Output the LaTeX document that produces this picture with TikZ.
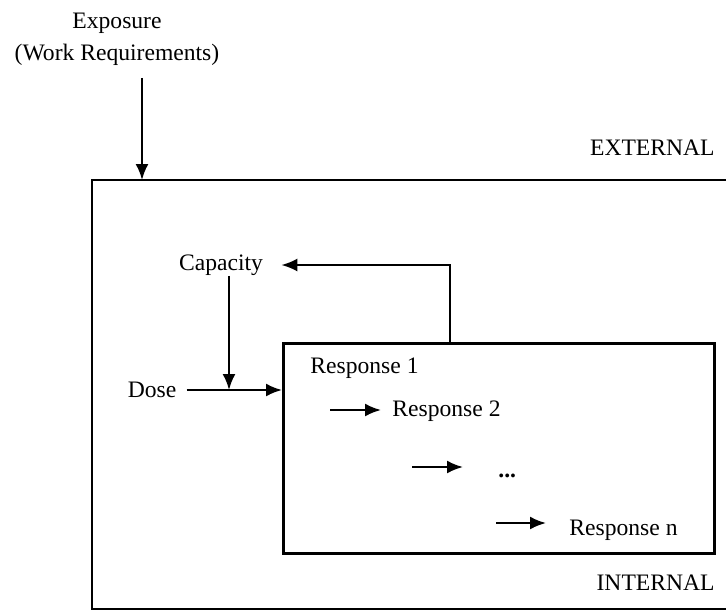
\documentclass[tikz,border=0pt]{standalone}
\usepackage{fontspec}
\setmainfont{Liberation Serif}
\usetikzlibrary{arrows.meta}

\tikzset{
  arr/.style={-{Latex[length=8pt,width=6.5pt]}, line width=1.1pt},
  box/.style={draw, line width=1.4pt},
  lbl/.style={inner sep=0pt}
}

\begin{document}
\begin{tikzpicture}[x=0.5pt,y=-0.5pt,font=\fontsize{11.8}{16}\selectfont]
\useasboundingbox (0,0) rectangle (726,610);
\clip (0,0) rectangle (726,610);

% outer region
\draw [box] (92,180) rectangle (760,609);
\node [lbl, anchor=east] (external) at (715,148) {EXTERNAL};
\node [lbl, anchor=east] (internal) at (715,583) {INTERNAL};

% exposure
\node [lbl, align=center] (exposure) at (117,39) {Exposure\\(Work Requirements)};
\coordinate (expostart) at (142,78);
\coordinate (expoend) at (142,180);
\draw [arr] (expostart) -- (expoend);

% inner box of responses
\node [box, anchor=north west, minimum width=215.5pt, minimum height=105pt] (inner) at (282,342) {};
\node [lbl, anchor=west] (resp1) at (310,368) {Response 1};
\node [lbl, anchor=west] (resp2) at (392,411) {Response 2};
\node [lbl, anchor=west] (dots) at (498,476) {\textbf{...}};
\node [lbl, anchor=west] (respn) at (569,530) {Response n};

% capacity and dose
\node [lbl] (capacity) at (221,265) {Capacity};
\node [lbl] (dose) at (152,390) {Dose};
\coordinate (join) at (229,390);
\coordinate (feedback) at (450,342);
\draw [arr] (feedback) |- ([xshift=9pt]capacity.east);
\draw [arr] (capacity.south -| join) -- (join);
\draw [arr] ([xshift=5pt]dose.east) -- (dose -| inner.west);

% chain of responses
\coordinate (a1) at (330,410);
\coordinate (b1) at (381,410);
\coordinate (a2) at (412,467);
\coordinate (b2) at (463,467);
\coordinate (a3) at (496,523);
\coordinate (b3) at (546,523);
\draw [arr] (a1) -- (b1);
\draw [arr] (a2) -- (b2);
\draw [arr] (a3) -- (b3);
\end{tikzpicture}
\end{document}
